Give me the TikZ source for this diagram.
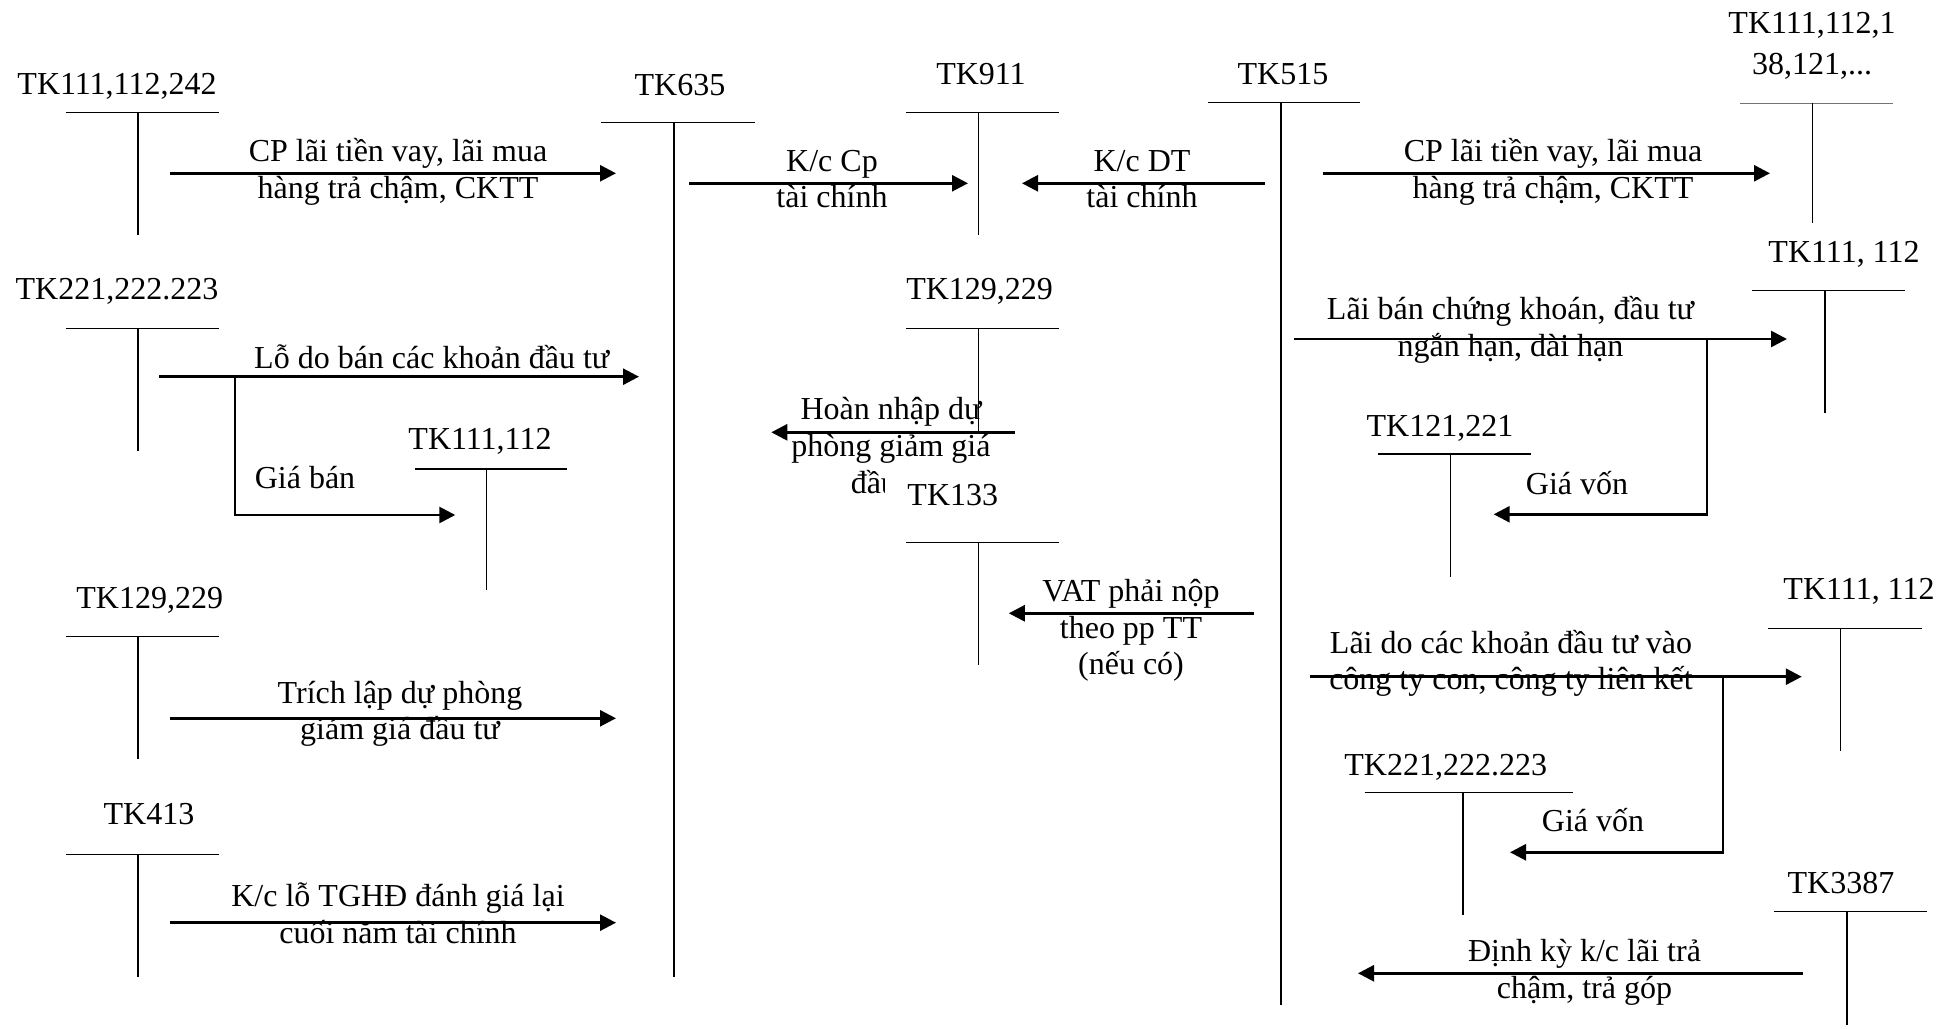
\documentclass[tikz,border=0pt]{standalone}
\usepackage{fontspec}
\setmainfont{Liberation Serif}
\usetikzlibrary{arrows.meta}

% T-account: name, left x, right x, stem x, top y, bottom y
\newcommand\taccount[6]{%
  \coordinate (#1-l) at (#2,#5);
  \coordinate (#1-r) at (#3,#5);
  \coordinate (#1-t) at (#4,#5);
  \coordinate (#1-b) at (#4,#6);
  \draw[acct] (#1-l) -- (#1-r);
  \draw[acct] (#1-t) -- (#1-b);
}

% multi-line labels are placed by the baseline of their last line
\tikzset{
  lbl/.style={font=\fontsize{12}{13.8}\selectfont, inner sep=0pt, anchor=base, align=center},
  acct/.style={line width=0.45pt},
  flow/.style={line width=1pt, -{Triangle[length=6pt,width=6pt]}},
}

\begin{document}
\begin{tikzpicture}[x=0.375pt, y=-0.375pt]
\useasboundingbox (0,0) rectangle (1941,1029);

% ---------- T-accounts ----------
\taccount{tA}{65.6}{218.8}{138}{112.7}{235}        % TK111,112,242
\taccount{tB}{601}{755}{674}{122.3}{976.7}         % TK635
\taccount{tC}{905.8}{1059}{978.5}{112.7}{235}      % TK911
\taccount{tD}{1208}{1360}{1281}{102.7}{1005}       % TK515
\taccount{tF}{65.6}{218.8}{138}{328.3}{450.7}      % TK221,222.223
\taccount{tG}{415}{567}{486.6}{469}{590}           % TK111,112
\taccount{tH}{906}{1058.5}{978.5}{328.3}{431.7}    % TK129,229 (middle)
\taccount{tI}{906}{1058.5}{978.5}{542.7}{665}      % TK133
\taccount{tJ}{1752}{1905}{1825}{290.7}{412.7}      % TK111, 112
\taccount{tK}{1377.8}{1531}{1450.5}{454}{576.7}    % TK121,221
\taccount{tL}{1768}{1922}{1840.5}{628.3}{750.7}    % TK111, 112
\taccount{tM}{1364.6}{1572.6}{1462.9}{792.3}{915}  % TK221,222.223 (right)
\taccount{tN}{1774}{1927}{1847}{911.7}{1025}       % TK3387
\taccount{tO}{65.6}{218.8}{138}{636.7}{759}        % TK129,229 (left)
\taccount{tP}{65.6}{218.8}{138}{854.3}{976.7}      % TK413

% TK111,112,138,121,... (lighter rule)
\coordinate (tE-l) at (1740,103.3);
\coordinate (tE-r) at (1893,103.3);
\coordinate (tE-t) at (1812.8,103.3);
\coordinate (tE-b) at (1812.8,223);
\draw[line width=0.3pt, black!55] (tE-l) -- (tE-r);
\draw[acct] (tE-t) -- (tE-b);

% ---------- account titles ----------
\node[lbl] (nA) at (117,95) {TK111,112,242};
\node[lbl] (nB) at (680,96) {TK635};
\node[lbl] (nC) at (981,85) {TK911};
\node[lbl] (nD) at (1283,85) {TK515};
\node[lbl] (nE) at (1812,75) {TK111,112,1\\[1.9pt]38,121,...};
\node[lbl] (nF) at (117,300) {TK221,222.223};
\node[lbl] (nG) at (480,450) {TK111,112};
\node[lbl] (nH) at (979.6,300) {TK129,229};
\node[lbl] (nJ) at (1844,263) {TK111, 112};
\node[lbl] (nK) at (1440,436.7) {TK121,221};
\node[lbl] (nL) at (1859,600) {TK111, 112};
\node[lbl] (nM) at (1445.7,776) {TK221,222.223};
\node[lbl] (nN) at (1841,893.3) {TK3387};
\node[lbl] (nO) at (149.7,608.3) {TK129,229};
\node[lbl] (nP) at (149,825) {TK413};

% ---------- flows ----------
\coordinate (f1s) at (170,173.3);   \coordinate (f1e) at (616,173.3);
\coordinate (f2s) at (689,183.3);   \coordinate (f2e) at (968,183.3);
\coordinate (f3s) at (1265,183.3);  \coordinate (f3e) at (1022,183.3);
\coordinate (f4s) at (1322.7,173.3);\coordinate (f4e) at (1770,173.3);
\coordinate (f5s) at (159.4,376.7); \coordinate (f5e) at (639,376.7);
\coordinate (f5b) at (235,376.7);   \coordinate (f5c) at (455.3,515);
\coordinate (f6s) at (1015,432.3);  \coordinate (f6e) at (771.3,432.3);
\coordinate (f7s) at (1254,613.3);  \coordinate (f7e) at (1008.8,613.3);
\coordinate (f8s) at (1294,339);    \coordinate (f8e) at (1787,339);
\coordinate (f8b) at (1707,339);    \coordinate (f8c) at (1493.7,514.3);
\coordinate (f9s) at (1309.5,676.7);\coordinate (f9e) at (1801.8,676.7);
\coordinate (f9b) at (1722.9,676.7);\coordinate (f9c) at (1510,852.3);
\coordinate (f10s) at (1803,973.3); \coordinate (f10e) at (1358,973.3);
\coordinate (f11s) at (169.6,718.3);\coordinate (f11e) at (616,718.3);
\coordinate (f12s) at (169.6,922.7);\coordinate (f12e) at (616,922.7);

\draw[flow] (f1s) -- (f1e);
\draw[flow] (f2s) -- (f2e);
\draw[flow] (f3s) -- (f3e);
\draw[flow] (f4s) -- (f4e);
\draw[flow] (f5s) -- (f5e);
\draw[flow] (f5b) |- (f5c);
\draw[flow] (f6s) -- (f6e);
\draw[flow] (f7s) -- (f7e);
\draw[flow] (f8s) -- (f8e);
\draw[flow] (f8b) |- (f8c);
\draw[flow] (f9s) -- (f9e);
\draw[flow] (f9b) |- (f9c);
\draw[flow] (f10s) -- (f10e);
\draw[flow] (f11s) -- (f11e);
\draw[flow] (f12s) -- (f12e);

% ---------- flow labels ----------
\node[lbl] (l1) at (398,198.3) {CP lãi tiền vay, lãi mua\\hàng trả chậm, CKTT};
\node[lbl] (l2) at (832,208) {K/c Cp\\tài chính};
\node[lbl] (l3) at (1142,208) {K/c DT\\tài chính};
\node[lbl] (l4) at (1553,198.3) {CP lãi tiền vay, lãi mua\\hàng trả chậm, CKTT};
\node[lbl] (l5) at (431.7,368.3) {Lỗ do bán các khoản đầu tư};
\node[lbl] (l5b) at (305,488.3) {Giá bán};
\node[lbl] (l6) at (891,493.3) {Hoàn nhập dự\\phòng giảm giá\\đầu tư};
\node[lbl] (l7) at (1131,675) {VAT phải nộp\\theo pp TT\\(nếu có)};
\node[lbl] (l8) at (1510.5,356.7) {Lãi bán chứng khoán, đầu tư\\ngắn hạn, dài hạn};
\node[lbl] (l8b) at (1577,495) {Giá vốn};
\node[lbl] (l9) at (1511,690) {Lãi do các khoản đầu tư vào\\công ty con, công ty liên kết};
\node[lbl] (l9b) at (1593,831.7) {Giá vốn};
\node[lbl] (l10) at (1584.5,998.3) {Định kỳ k/c lãi trả\\chậm, trả góp};
\node[lbl] (l11) at (400,740) {Trích lập dự phòng\\giảm giá đầu tư};
\node[lbl] (l12) at (398,943.3) {K/c lỗ TGHĐ đánh giá lại\\cuối năm tài chính};

% TK133 title sits on a white box over the text above it
\node[lbl, anchor=base west, fill=white, inner xsep=8.6pt, inner ysep=4pt] (nI) at (884,506) {TK133};
\end{tikzpicture}
\end{document}
